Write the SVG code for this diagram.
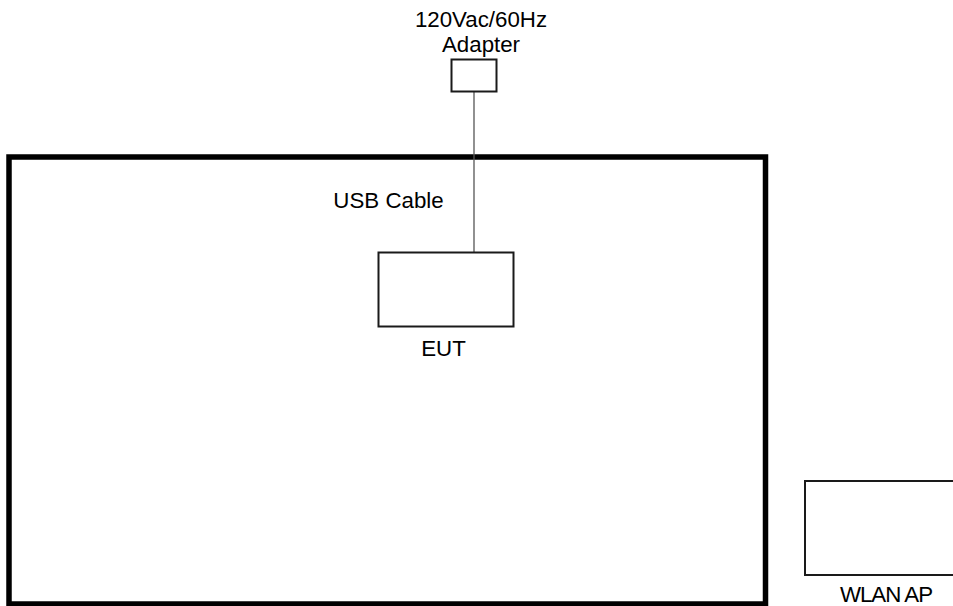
<svg xmlns="http://www.w3.org/2000/svg" width="953" height="606" viewBox="0 0 953 606">
<style>
.lbl{font-family:"Liberation Sans",Arial,sans-serif;font-size:22.3px;fill:#000;text-anchor:middle}
.box{fill:#fff;stroke:#1a1a1a;stroke-width:2}
</style>
<rect width="953" height="606" fill="#fff"/>
<g id="chamber"><rect x="9" y="157" width="756.5" height="447" fill="none" stroke="#000" stroke-width="5.5"/></g>
<g id="connectors"><line x1="474" y1="92" x2="474" y2="252" stroke="#555" stroke-width="1.3"/></g>
<g id="adapter"><rect class="box" x="451.5" y="59.5" width="45" height="32"/><text class="lbl" x="481" y="27">120Vac/60Hz</text><text class="lbl" x="481" y="52">Adapter</text></g>
<g id="usb-label"><text class="lbl" x="388.5" y="207.5">USB Cable</text></g>
<g id="eut"><rect class="box" x="378.5" y="252.5" width="135" height="74"/><text class="lbl" x="443.5" y="356">EUT</text></g>
<g id="wlan"><rect class="box" x="805" y="481" width="160" height="94"/><text class="lbl" x="886" y="602" letter-spacing="-1">WLAN AP</text></g>
</svg>
